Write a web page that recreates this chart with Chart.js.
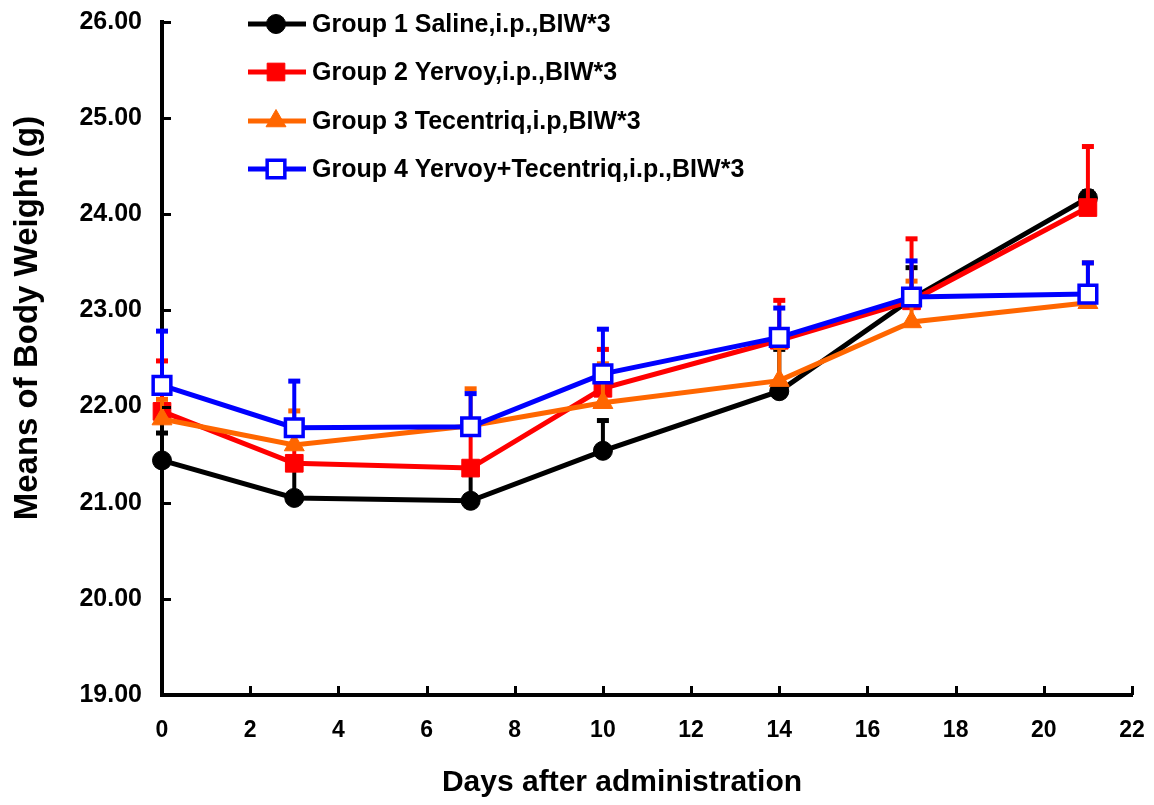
<!DOCTYPE html>
<html><head><meta charset="utf-8">
<script src="https://cdn.jsdelivr.net/npm/chart.js@4/dist/chart.umd.min.js"></script>
<style>html,body{margin:0;padding:0;background:#fff}#wrap{width:1154px;height:805px}</style>
</head><body><div id="wrap"><canvas id="c" width="1154" height="805"></canvas></div>
<script>
// ---- data ----
const days = [0, 3, 7, 10, 14, 17, 21];
const groupNames = [
  'Group 1 Saline,i.p.,BIW*3',
  'Group 2 Yervoy,i.p.,BIW*3',
  'Group 3 Tecentriq,i.p,BIW*3',
  'Group 4 Yervoy+Tecentriq,i.p.,BIW*3'
];
const g1Mean = [21.44, 21.05, 21.02, 21.54, 22.16, 23.12, 24.17];
const g1Err  = [0.29, 0.38, 0.36, 0.32, 0.44, 0.33, 0.07];
const g2Mean = [21.95, 21.41, 21.36, 22.19, 22.69, 23.10, 24.07];
const g2Err  = [0.53, 0.35, 0.45, 0.41, 0.42, 0.65, 0.64];
const g3Mean = [21.87, 21.60, 21.80, 22.04, 22.27, 22.88, 23.08];
const g3Err  = [0.21, 0.36, 0.39, 0.41, 0.35, 0.43, 0.42];
const g4Mean = [22.22, 21.78, 21.79, 22.34, 22.72, 23.14, 23.17];
const g4Err  = [0.57, 0.49, 0.35, 0.47, 0.31, 0.38, 0.33];
const xTickValues = [0, 2, 4, 6, 8, 10, 12, 14, 16, 18, 20, 22];
const yTickValues = [19, 20, 21, 22, 23, 24, 25, 26];
const xTitle = 'Days after administration';
const yTitle = 'Means of Body Weight (g)';

const FONT = '"Liberation Sans", Arial, sans-serif';

function pts(mean) { return days.map((d, i) => ({ x: d, y: mean[i] })); }

function makeDs(label, mean, err, color, style, radius, bg, bw, order) {
  return {
    label, data: pts(mean), errUp: err,
    borderColor: color, backgroundColor: bg,
    pointBackgroundColor: bg, pointBorderColor: color,
    pointStyle: style, pointRadius: radius, pointHoverRadius: radius,
    pointBorderWidth: bw, borderWidth: 5, tension: 0,
    showLine: true, fill: false, clip: false, order
  };
}

const datasets = [
  makeDs(groupNames[0], g1Mean, g1Err, '#000000', 'circle', 9.5, '#000000', 1, 4),
  makeDs(groupNames[1], g2Mean, g2Err, '#FF0000', 'rect', 12.5, '#FF0000', 1, 3),
  makeDs(groupNames[2], g3Mean, g3Err, '#FF6600', 'triangle', 11.5, '#FF6600', 1, 2),
  makeDs(groupNames[3], g4Mean, g4Err, '#0000FF', 'rect', 12.5, '#FFFFFF', 3.5, 1)
];

// error bars (upper only), drawn with each dataset
const errorBars = {
  id: 'errorBars',
  beforeDatasetDraw(chart, args) {
    const ds = chart.data.datasets[args.index];
    if (!ds.errUp) return;
    const xs = chart.scales.x, ys = chart.scales.y, ctx = chart.ctx;
    ctx.save();
    ctx.strokeStyle = ds.borderColor; ctx.fillStyle = ds.borderColor;
    ctx.lineWidth = 4;
    ds.data.forEach((p, i) => {
      const px = xs.getPixelForValue(p.x);
      const py = ys.getPixelForValue(p.y);
      const pt = ys.getPixelForValue(p.y + ds.errUp[i]);
      ctx.beginPath(); ctx.moveTo(px, py); ctx.lineTo(px, pt); ctx.stroke();
      ctx.fillRect(px - 6, pt - 2, 12, 5);
    });
    ctx.restore();
  }
};

// inward tick marks + axis titles
const axisDecor = {
  id: 'axisDecor',
  afterDraw(chart) {
    const ctx = chart.ctx, xs = chart.scales.x, ys = chart.scales.y;
    const a = chart.chartArea;
    ctx.save();
    ctx.strokeStyle = '#000'; ctx.lineWidth = 3;
    ys.ticks.forEach(t => {
      const py = Math.round(ys.getPixelForValue(t.value)) + 0.5;
      ctx.beginPath(); ctx.moveTo(a.left, py); ctx.lineTo(a.left + 9, py); ctx.stroke();
    });
    xs.ticks.forEach(t => {
      const px = Math.round(xs.getPixelForValue(t.value)) + 0.5;
      ctx.beginPath(); ctx.moveTo(px, a.bottom); ctx.lineTo(px, a.bottom - 9); ctx.stroke();
    });
    ctx.fillStyle = '#000';
    ctx.textAlign = 'center'; ctx.textBaseline = 'middle';
    ctx.font = 'bold 30px ' + FONT;
    ctx.fillText(xTitle, 622, 783);
    ctx.translate(28, 318); ctx.rotate(-Math.PI / 2);
    ctx.font = 'bold 33px ' + FONT;
    ctx.fillText(yTitle, 0, 0);
    ctx.restore();
  }
};

// custom legend: line through marker
const lineLegend = {
  id: 'lineLegend',
  afterDraw(chart) {
    const ctx = chart.ctx;
    const rowsY = [24, 72, 121, 169];
    ctx.save();
    chart.data.datasets.forEach((ds, i) => {
      const y = rowsY[i];
      ctx.strokeStyle = ds.borderColor; ctx.lineWidth = 5;
      ctx.beginPath(); ctx.moveTo(248, y); ctx.lineTo(306, y); ctx.stroke();
      ctx.fillStyle = ds.pointBackgroundColor;
      ctx.strokeStyle = ds.pointBorderColor;
      ctx.lineWidth = ds.pointBorderWidth;
      Chart.helpers.drawPoint(ctx, {
        pointStyle: ds.pointStyle, radius: ds.pointRadius,
        borderWidth: ds.pointBorderWidth, rotation: 0
      }, 276, y);
      ctx.fillStyle = '#000';
      ctx.font = 'bold 25px ' + FONT;
      ctx.textBaseline = 'middle'; ctx.textAlign = 'left';
      ctx.fillText(ds.label, 312, y + 1);
    });
    ctx.restore();
  }
};

new Chart(document.getElementById('c'), {
  type: 'line',
  data: { datasets },
  plugins: [errorBars, axisDecor, lineLegend],
  options: {
    responsive: false, animation: false, devicePixelRatio: 1,
    layout: { padding: { top: 22, right: 22, left: 0, bottom: 0 } },
    plugins: { legend: { display: false }, tooltip: { enabled: false } },
    scales: {
      x: {
        type: 'linear', min: 0, max: 22,
        afterBuildTicks: s => { s.ticks = xTickValues.map(v => ({ value: v })); },
        afterFit: s => { s.height = 110; s.paddingLeft = 0; s.paddingRight = 0; },
        grid: { display: true, drawOnChartArea: false, drawTicks: false },
        border: { display: true, color: '#000', width: 4 },
        ticks: { color: '#000', padding: 22, font: { family: FONT, size: 23, weight: 'bold' }, maxRotation: 0 },
        title: { display: false }
      },
      y: {
        type: 'linear', min: 19, max: 26,
        afterBuildTicks: s => { s.ticks = yTickValues.map(v => ({ value: v })); },
        afterFit: s => { s.width = 162; s.paddingTop = 0; s.paddingBottom = 0; },
        grid: { display: true, drawOnChartArea: false, drawTicks: false },
        border: { display: true, color: '#000', width: 4 },
        ticks: { color: '#000', padding: 20, font: { family: FONT, size: 25, weight: 'bold' },
                 callback: v => Number(v).toFixed(2) },
        title: { display: false }
      }
    }
  }
});
</script>
</body></html>
